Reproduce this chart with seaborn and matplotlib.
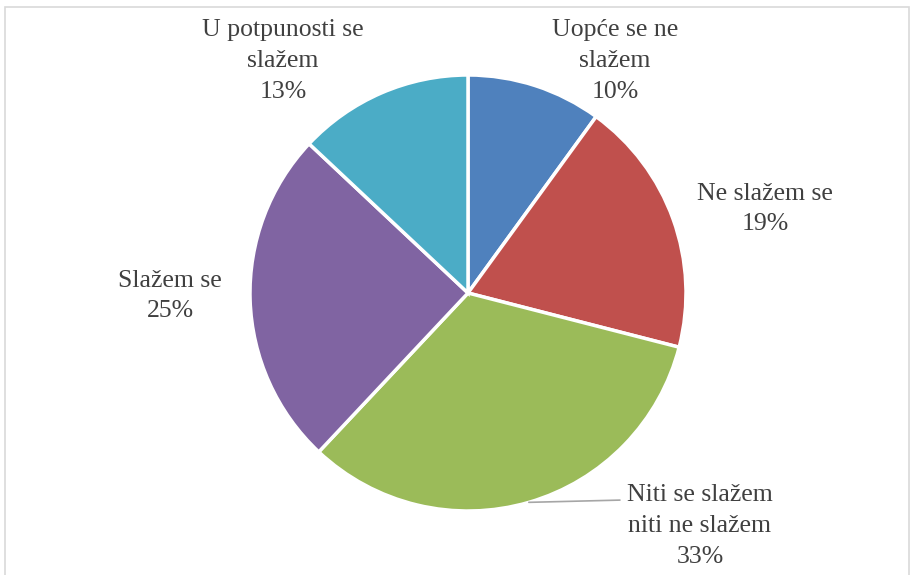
import matplotlib
matplotlib.use("Agg")
import matplotlib.pyplot as plt
import numpy as np
import seaborn as sns
from matplotlib.patches import Rectangle

categories = ["Uopće se ne\nslažem", "Ne slažem se", "Niti se slažem\nniti ne slažem",
              "Slažem se", "U potpunosti se\nslažem"]
values = [10, 19, 33, 25, 13]
colors = ["#4F81BD", "#C0504D", "#9BBB59", "#8064A2", "#4BACC6"]

# label anchor positions (pie radius = 1)
label_pos = [(0.674, 1.064), (1.362, 0.385), (1.064, -1.069), (-1.367, -0.014), (-0.849, 1.064)]

sns.set_theme(style="white")
plt.rcParams["font.family"] = ["Liberation Serif", "DejaVu Serif"]

W, H = 912, 575
fig = plt.figure(figsize=(W / 100, H / 100), dpi=100)
cx, cy, r = 468, 293, 218
ax = fig.add_axes([(cx - r) / W, (H - cy - r) / H, 2 * r / W, 2 * r / H])

wedges, _ = ax.pie(values, colors=sns.color_palette(colors), startangle=90, counterclock=False,
                   radius=1, wedgeprops=dict(edgecolor="white", linewidth=2.5))
ax.set_xlim(-1, 1)
ax.set_ylim(-1, 1)
ax.axis("off")

total = sum(values)
for w, cat, v, (lx, ly) in zip(wedges, categories, values, label_pos):
    ax.text(lx, ly, f"{cat}\n{round(100 * v / total)}%", ha="center", va="center",
            fontsize=18.5, color="#404040", linespacing=1.52, clip_on=False)

# leader line for the bottom slice
mid = np.deg2rad((wedges[2].theta1 + wedges[2].theta2) / 2)
ax.plot([np.cos(mid), 0.697], [np.sin(mid), -0.95], color="#A6A6A6", lw=1.2, clip_on=False)

fig.patches.append(Rectangle((5 / W, -0.05), 904 / W, 1.05 - 7 / H, transform=fig.transFigure,
                             fill=False, edgecolor="#D9D9D9", lw=1.2))

fig.savefig("out.png", dpi=100)
